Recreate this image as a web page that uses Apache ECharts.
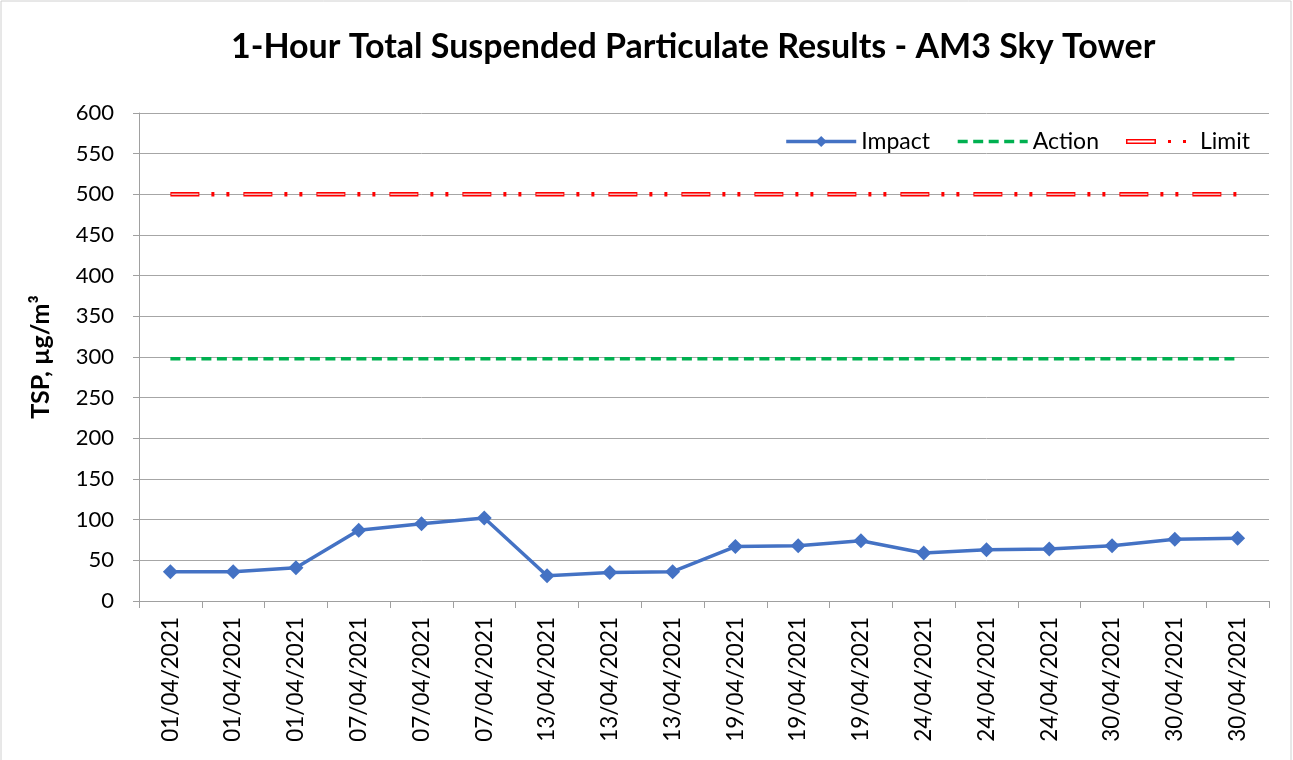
<!DOCTYPE html>
<html>
<head>
<meta charset="utf-8">
<script src="https://cdn.jsdelivr.net/npm/echarts@6/dist/echarts.min.js"></script>
<style>
html,body{margin:0;padding:0;background:#fff;}
#c{width:1293px;height:760px;}
</style>
</head>
<body>
<div id="c"></div>
<script>
const categories = ['01/04/2021','01/04/2021','01/04/2021','07/04/2021','07/04/2021','07/04/2021','13/04/2021','13/04/2021','13/04/2021','19/04/2021','19/04/2021','19/04/2021','24/04/2021','24/04/2021','24/04/2021','30/04/2021','30/04/2021','30/04/2021'];
const impact = [36, 36, 41, 87, 95, 102, 31, 35, 36, 67, 68, 74, 59, 63, 64, 68, 76, 77];
const actionLevel = 298;
const limitLevel = 500;
const action = categories.map(() => actionLevel);
const limit = categories.map(() => limitLevel);
const yTicks = [0, 50, 100, 150, 200, 250, 300, 350, 400, 450, 500, 550, 600];

const FONT = 'Lato, "Open Sans", sans-serif';
const limitIcon = 'path://M0,0h0.01v0.01h-0.01z M70,14h-0.01v-0.01h0.01z ' +
  'M1,4.5H31V9.5H1Z M2.5,6V8H29.5V6Z ' +
  'M43,5.5h3v3h-3Z M58,5.5h3v3h-3Z';
const chart = echarts.init(document.getElementById('c'), null, {renderer: 'canvas'});
chart.setOption({
  backgroundColor: '#fff',
  animation: false,
  title: {
    text: '1-Hour Total Suspended Particulate Results - AM3 Sky Tower',
    left: 226, top: 25,
    textStyle: {fontFamily: FONT, fontWeight: 'bold', fontSize: 34, color: '#000'}
  },
  graphic: [{
    type: 'rect', shape: {x: 1, y: 1, width: 1290, height: 770},
    style: {fill: 'none', stroke: '#d0d0d0', lineWidth: 1}, silent: true
  }],
  legend: {
    data: [
      {name: 'Impact', lineStyle: {width: 3.5}},
      {name: 'Action', itemStyle: {opacity: 0}, lineStyle: {width: 3.5}},
      {name: 'Limit', icon: limitIcon}
    ],
    right: 38, top: 125,
    itemWidth: 70, itemHeight: 14, itemGap: 26,
    textStyle: {fontFamily: FONT, fontSize: 23, color: '#000'}
  },
  grid: {left: 139, right: 24, top: 113, bottom: 159, containLabel: false},
  xAxis: {
    type: 'category', data: categories, boundaryGap: true,
    axisLine: {lineStyle: {color: '#a0a0a0', width: 1}},
    axisTick: {show: true, alignWithLabel: false, length: 7, lineStyle: {color: '#a0a0a0'}},
    axisLabel: {rotate: 90, interval: 0, fontFamily: FONT, fontSize: 22.5, color: '#000', margin: 16},
    splitLine: {show: false}
  },
  yAxis: {
    type: 'value', min: yTicks[0], max: yTicks[yTicks.length - 1], interval: 50,
    name: 'TSP, µg/m³', nameLocation: 'middle', nameGap: 86, nameRotate: 90,
    nameTextStyle: {fontFamily: FONT, fontWeight: 'bold', fontSize: 25, color: '#000'},
    axisLine: {show: true, lineStyle: {color: '#a0a0a0'}},
    axisTick: {show: true, length: 6, lineStyle: {color: '#a0a0a0'}},
    axisLabel: {fontFamily: FONT, fontSize: 22, color: '#000', margin: 25},
    splitLine: {lineStyle: {color: '#a6a6a6', width: 1}}
  },
  series: [
    {
      name: 'Impact', type: 'line', data: impact,
      symbol: 'diamond', symbolSize: 15,
      itemStyle: {color: '#4472C4'},
      lineStyle: {color: '#4472C4', width: 3.5},
      z: 5
    },
    {
      name: 'Action', type: 'line', data: action,
      symbol: 'none',
      itemStyle: {color: '#00B050'},
      lineStyle: {color: '#00B050', width: 3.5, type: [10, 5.5], cap: 'butt'},
      z: 3
    },
    {
      name: 'Limit', type: 'line', data: limit,
      symbol: 'none',
      itemStyle: {color: '#FF0000'},
      lineStyle: {color: '#FF0000', width: 4.5, type: [29, 12, 3, 12, 3, 14], cap: 'butt'},
      z: 3
    },
    {
      name: 'LimitInner', type: 'line', data: limit,
      symbol: 'none', silent: true,
      lineStyle: {color: '#f2b8b8', width: 1.5, type: [0, 1, 27, 45], cap: 'butt'},
      z: 4
    }
  ]
});
</script>
</body>
</html>
